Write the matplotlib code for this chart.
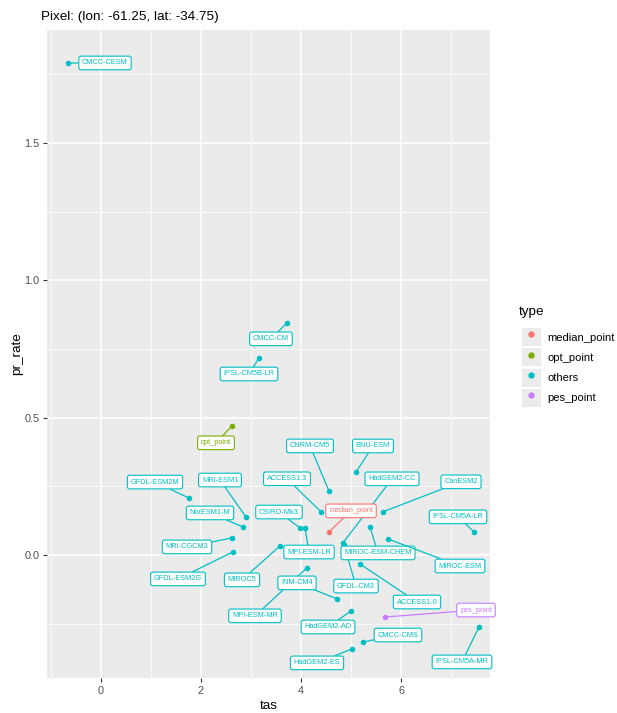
import matplotlib
matplotlib.use('Agg')
import matplotlib.pyplot as plt
from matplotlib.lines import Line2D
from matplotlib.patches import Patch
from matplotlib.legend_handler import HandlerTuple
from matplotlib.ticker import MultipleLocator

plt.rcParams['font.family'] = ['Liberation Sans', 'DejaVu Sans']

# ---------------- data ----------------
models = ["CMCC-CESM", "CMCC-CM", "IPSL-CM5B-LR", "opt_point", "CNRM-CM5", "BNU-ESM",
          "ACCESS1.3", "HadGEM2-CC", "GFDL-CM3", "median_point", "CanESM2", "CSIRO-Mk3",
          "MPI-ESM-LR", "MIROC5", "GFDL-ESM2G", "MRI-CGCM3", "NorESM1-M", "MRI-ESM1",
          "GFDL-ESM2M", "MPI-ESM-MR", "INM-CM4", "ACCESS1-0", "MIROC-ESM-CHEM", "MIROC-ESM",
          "pes_point", "HadGEM2-AD", "CMCC-CMS", "HadGEM2-ES", "IPSL-CM5A-MR", "IPSL-CM5A-LR"]
tas = [-0.66, 3.72, 3.16, 2.62, 4.56, 5.10,
       4.40, 4.84, 4.86, 4.56, 5.64, 3.98,
       4.08, 3.58, 2.64, 2.62, 2.84, 2.90,
       1.76, 4.12, 4.72, 5.18, 5.38, 5.74,
       5.68, 5.00, 5.24, 5.02, 7.56, 7.46]
pr_rate = [1.791, 0.845, 0.717, 0.470, 0.233, 0.302,
           0.157, 0.044, 0.036, 0.084, 0.157, 0.098,
           0.098, 0.033, 0.011, 0.062, 0.102, 0.138,
           0.207, -0.047, -0.160, -0.033, 0.102, 0.058,
           -0.226, -0.204, -0.317, -0.342, -0.262, 0.084]
types = ["others", "others", "others", "opt_point", "others", "others",
         "others", "others", "others", "median_point", "others", "others",
         "others", "others", "others", "others", "others", "others",
         "others", "others", "others", "others", "others", "others",
         "pes_point", "others", "others", "others", "others", "others"]
type_levels = ["median_point", "opt_point", "others", "pes_point"]
x_ticks = [0, 2, 4, 6]
y_ticks = [0.0, 0.5, 1.0, 1.5]
title = "Pixel: (lon: -61.25, lat: -34.75)"

# ---------------- layout / style ----------------
DPI = 100
palette = {"median_point": "#F8766D", "opt_point": "#7CAE00",
           "others": "#00BFC4", "pes_point": "#C77CFF"}
# label offsets from the point in pixels (dx right, dy up)
label_offsets_px = {
    "CMCC-CESM": (37, 0), "CMCC-CM": (-16, -16), "IPSL-CM5B-LR": (-10, -16),
    "opt_point": (-16, -17), "CNRM-CM5": (-19, 45), "BNU-ESM": (17, 26),
    "ACCESS1.3": (-34, 33), "HadGEM2-CC": (49, 64), "GFDL-CM3": (12, -41),
    "median_point": (22, 21), "CanESM2": (78, 30), "CSIRO-Mk3": (-21, 16),
    "MPI-ESM-LR": (4, -24), "MIROC5": (-38, -34), "GFDL-ESM2G": (-55, -27),
    "MRI-CGCM3": (-45, -9), "NorESM1-M": (-33, 14), "MRI-ESM1": (-26, 37),
    "GFDL-ESM2M": (-34, 16), "MPI-ESM-MR": (-52, -48), "INM-CM4": (-40, 16),
    "ACCESS1-0": (57, -38), "MIROC-ESM-CHEM": (8, -26), "MIROC-ESM": (72, -27),
    "pes_point": (91, 7), "HadGEM2-AD": (-23, -16), "CMCC-CMS": (35, 7),
    "HadGEM2-ES": (-35, -14), "IPSL-CM5A-MR": (-17, -35), "IPSL-CM5A-LR": (-16, 15),
}

fig = plt.figure(figsize=(617 / DPI, 713 / DPI), dpi=DPI)
ax = fig.add_axes([47 / 617, 1 - 678 / 713, (490 - 47) / 617, (678 - 30) / 713])
ax.set_facecolor("#EBEBEB")
for s in ax.spines.values():
    s.set_visible(False)

ax.set_xlim(-1.08, 7.78)
ax.set_ylim(-0.448, 1.911)
ax.set_xticks(x_ticks)
ax.set_yticks(y_ticks)
ax.set_yticklabels([f"{v:.1f}" for v in y_ticks])
ax.xaxis.set_minor_locator(MultipleLocator(2, offset=1))
ax.yaxis.set_minor_locator(MultipleLocator(0.5, offset=0.25))
ax.grid(which="major", color="white", lw=1.1)
ax.grid(which="minor", color="white", lw=0.55)
ax.set_axisbelow(True)
ax.tick_params(which="major", length=3, width=0.8, color="#333333",
               labelcolor="#4D4D4D", labelsize=7.8, pad=2.5)
ax.tick_params(which="minor", length=0)

ax.set_xlabel("tas", fontsize=9.7, labelpad=3)
ax.set_ylabel("pr_rate", fontsize=9.7, labelpad=1)
ax.set_title(title, fontsize=9.7, loc="left", x=-0.013, pad=7)

# points
for t in type_levels:
    xs = [x for x, tt in zip(tas, types) if tt == t]
    ys = [y for y, tt in zip(pr_rate, types) if tt == t]
    ax.scatter(xs, ys, s=16, color=palette[t], zorder=3, linewidths=0)

# labels (repel-like, with fixed offsets)
for name, x, y, t in zip(models, tas, pr_rate, types):
    c = palette[t]
    dx, dy = label_offsets_px[name]
    ax.annotate(name, xy=(x, y), xytext=(dx * 72 / DPI, dy * 72 / DPI),
                textcoords="offset points", ha="center", va="center",
                fontsize=5.3, color=c, zorder=4,
                bbox=dict(boxstyle="round,pad=0.45,rounding_size=0.3",
                          fc="white", ec=c, lw=0.8),
                arrowprops=dict(arrowstyle="-", color=c, lw=0.9,
                                shrinkA=0, shrinkB=0))

# legend
handles = [(Patch(facecolor="#EBEBEB", edgecolor="none"),
            Line2D([], [], marker="o", ls="", color=palette[t], markersize=3.5))
           for t in type_levels]
leg = fig.legend(handles, type_levels,
                 handler_map={tuple: HandlerTuple(ndivide=1)},
                 loc="upper left", bbox_to_anchor=(522 / 617, 1 - 328 / 713),
                 frameon=False, fontsize=8,
                 handlelength=1.7, handleheight=2.12, handletextpad=0.6,
                 labelspacing=0.2, borderpad=0.0, borderaxespad=0.0)
fig.text(519 / 617, 1 - 312 / 713, "type", fontsize=9.7, ha="left", va="center")

fig.savefig("out.png", dpi=DPI)
